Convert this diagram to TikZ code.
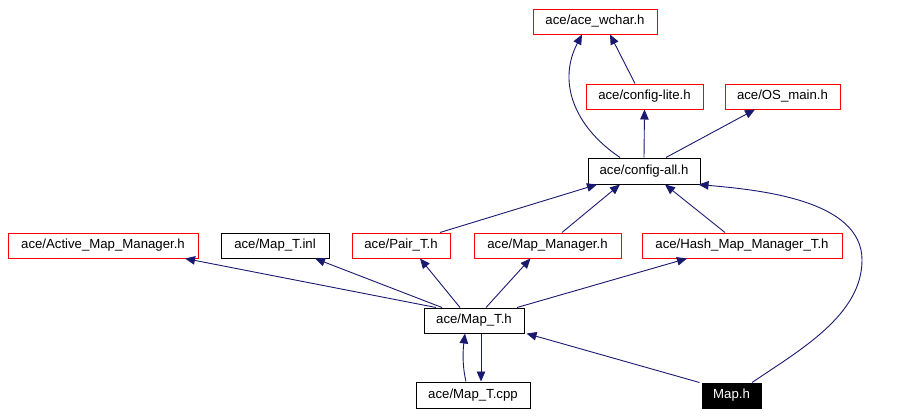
\documentclass[tikz,border=0pt]{standalone}
\usepackage{fontspec}
\setmainfont{Liberation Sans}
\usetikzlibrary{arrows.meta}
\definecolor{edgeblue}{HTML}{191970}
\begin{document}
\begin{tikzpicture}[x=1pt,y=-1pt,
  box/.style={draw=red,line width=1pt,inner sep=0pt,minimum height=25pt,font=\fontsize{13.2}{15}\selectfont,text=black},
  kbox/.style={box,draw=black},
  hbox/.style={box,draw=black,fill=black,text=white},
  arr/.style={draw=edgeblue,line width=0.9pt,-{Triangle[length=10pt,width=8.5pt]}}]
\useasboundingbox (0,0) rectangle (899,415);
\node[box,minimum width=124pt] (wchar) at (595,21.5) {ace/ace\_wchar.h};
\node[box,minimum width=117pt] (lite) at (644.5,96.5) {ace/config-lite.h};
\node[box,minimum width=115pt] (osmain) at (782.5,96.5) {ace/OS\_main.h};
\node[kbox,minimum width=112pt,minimum height=26pt] (all) at (644,171) {ace/config-all.h};
\node[box,minimum width=190pt] (active) at (103,245.5) {ace/Active\_Map\_Manager.h};
\node[kbox,minimum width=108pt] (inl) at (275,245.5) {ace/Map\_T.inl};
\node[box,minimum width=98pt] (pair) at (401,245.5) {ace/Pair\_T.h};
\node[box,minimum width=147pt] (mgr) at (547.5,245.5) {ace/Map\_Manager.h};
\node[box,minimum width=200pt] (hash) at (742,245.5) {ace/Hash\_Map\_Manager\_T.h};
\node[kbox,minimum width=100pt] (mapt) at (474,320.5) {ace/Map\_T.h};
\node[kbox,minimum width=114pt,minimum height=26pt] (cpp) at (473,395) {ace/Map\_T.cpp};
\node[hbox,minimum width=59pt] (maph) at (731.5,395.5) {Map.h};
% edges
\draw[arr] ([xshift=-9.5pt]lite.north) -- ([xshift=15pt]wchar.south);
\draw[arr] ([xshift=-24pt]all.north) .. controls (572,125) and (558,80) .. ([xshift=-13pt]wchar.south);
\draw[arr] (all.north) -- (lite.south);
\draw[arr] ([xshift=22pt]all.north) -- ([xshift=-27.5pt]osmain.south);
\draw[arr] ([xshift=39pt]pair.north) -- ([xshift=-47pt]all.south);
\draw[arr] ([xshift=14.5pt]mgr.north) -- ([xshift=-24pt]all.south);
\draw[arr] ([xshift=-17pt]hash.north) -- ([xshift=21pt]all.south);
\draw[arr] ([xshift=20.5pt]maph.north) .. controls (800,350) and (862,315) .. (862,260) .. controls (862,200) and (760,190) .. ([xshift=-2pt]all.south east);
\draw[arr] ([xshift=-38pt]mapt.north) -- ([xshift=82pt]active.south);
\draw[arr] ([xshift=-32pt]mapt.north) -- ([xshift=40pt]inl.south);
\draw[arr] ([xshift=-14pt]mapt.north) -- ([xshift=19pt]pair.south);
\draw[arr] ([xshift=12pt]mapt.north) -- ([xshift=-17pt]mgr.south);
\draw[arr] ([xshift=43pt]mapt.north) -- ([xshift=-55pt]hash.south);
\draw[arr] ([xshift=-2pt]maph.north west) -- ([xshift=2pt]mapt.south east);
\draw[arr] ([xshift=-7pt]cpp.north) .. controls (462,365) and (463,350) .. ([xshift=-9pt]mapt.south);
\draw[arr] ([xshift=7pt]mapt.south) -- ([xshift=8pt]cpp.north);
\end{tikzpicture}
\end{document}
